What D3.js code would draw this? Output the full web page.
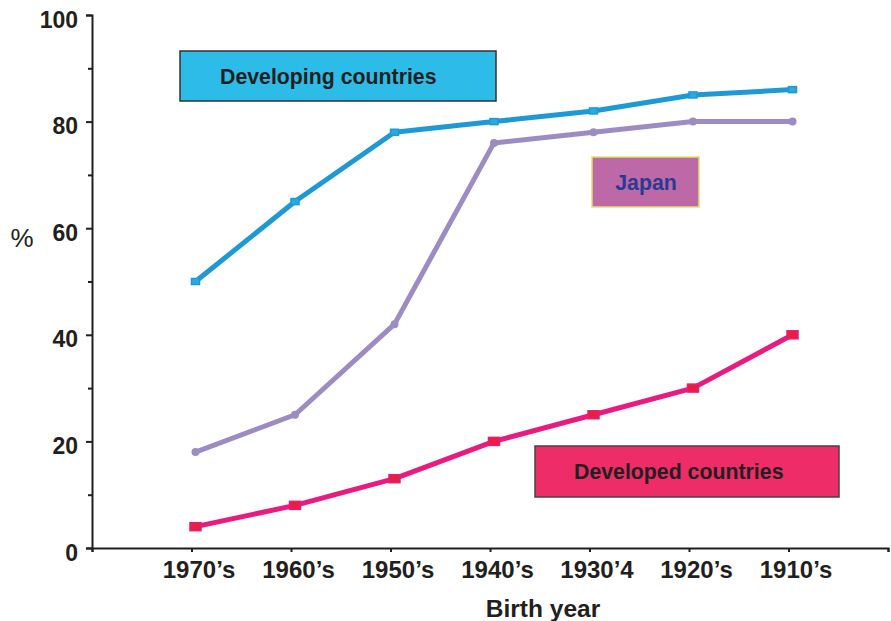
<!DOCTYPE html>
<html lang="en">
<head>
    <meta charset="UTF-8">
    <title>Birth year chart</title>
    <script src="https://d3js.org/d3.v7.min.js"></script>
    <style>
        body { margin: 0; background: white; }
        svg { display: block; }
        text { font-family: "Liberation Sans", Arial, sans-serif; fill: #231f20; }
        .axis path, .axis line { stroke: #231f20; stroke-width: 2px; }
        .axis text { font-weight: bold; fill: #231f20; }
    </style>
</head>
<body>
    <svg width="891" height="621"></svg>

    <script>
        const categories = ["1970’s", "1960’s", "1950’s", "1940’s", "1930’4", "1920’s", "1910’s"];
        const developing = [50, 65, 78, 80, 82, 85, 86];
        const japan = [18, 25, 42, 76, 78, 80, 80];
        const developed = [4, 8, 13, 20, 25, 30, 40];
        const yTicks = [0, 20, 40, 60, 80, 100];

        let svg = d3.select("svg");

        let x = d3.scaleLinear().domain([0, 8]).range([92, 888]);
        let y = d3.scaleLinear().domain([0, 100]).range([548, 15]);
        // points sit a little right of their ticks in the original
        let px = i => x(i + 1) + 4;

        // y axis: minor then major ticks
        svg.append("g")
            .attr("class", "axis")
            .attr("transform", "translate(92,0)")
            .call(d3.axisLeft(y).tickValues(d3.range(10, 100, 20)).tickSize(4).tickFormat(""))
            .call(g => g.select(".domain").remove());

        svg.append("g")
            .attr("class", "axis")
            .attr("transform", "translate(92,0)")
            .call(d3.axisLeft(y).tickValues(yTicks).tickSizeOuter(0).tickSize(6).tickPadding(8))
            .selectAll("text").attr("dy", "0.7em").attr("y", -4).attr("font-size", 23);

        // x axis
        svg.append("g")
            .attr("class", "axis")
            .attr("transform", "translate(0,548)")
            .call(d3.axisBottom(x).tickValues(d3.range(0, 9)).tickSizeOuter(0).tickSize(4).tickPadding(9)
                .tickFormat(i => categories[i - 1] || ""))
            .selectAll("text").attr("dx", 7).attr("font-size", 24);

        svg.append("text")
            .attr("x", 22).attr("y", 247)
            .attr("text-anchor", "middle")
            .attr("font-size", 26)
            .text("%");

        svg.append("text")
            .attr("x", 543).attr("y", 617)
            .attr("text-anchor", "middle")
            .attr("font-size", 24.5)
            .attr("font-weight", "bold")
            .text("Birth year");

        let line = d3.line().x((d, i) => px(i)).y(d => y(d));

        const series = [
            { values: developing, color: "#1d9ad6", marker: "rect", mfill: "#29abe2", mw: 8, mh: 6 },
            { values: japan, color: "#9d8cc4", marker: "circle", mfill: "#9d8cc4", r: 4 },
            { values: developed, color: "#ea1a7f", marker: "rect", mfill: "#e8203c", mw: 11, mh: 8 }
        ];

        series.forEach(s => {
            svg.append("path")
                .datum(s.values)
                .attr("fill", "none")
                .attr("stroke", s.color)
                .attr("stroke-width", 5)
                .attr("stroke-linejoin", "round")
                .attr("d", line);

            if (s.marker === "rect") {
                svg.selectAll(null)
                    .data(s.values)
                    .enter().append("rect")
                    .attr("x", (d, i) => px(i) - s.mw / 2)
                    .attr("y", d => y(d) - s.mh / 2)
                    .attr("width", s.mw)
                    .attr("height", s.mh)
                    .attr("fill", s.mfill)
                    .attr("stroke", s.color)
                    .attr("stroke-width", 1.5);
            } else {
                svg.selectAll(null)
                    .data(s.values)
                    .enter().append("circle")
                    .attr("cx", (d, i) => px(i))
                    .attr("cy", d => y(d))
                    .attr("r", s.r)
                    .attr("fill", s.mfill);
            }
        });

        // labelled boxes
        const boxes = [
            { label: "Developing countries", x: 180, y: 51, w: 316, h: 50, fill: "#2dbce8", stroke: "#333", color: "#231f20", tx: 220, anchor: "start" },
            { label: "Japan", x: 592, y: 157, w: 107, h: 50, fill: "#bd69a7", stroke: "#e4e06a", color: "#2b3990", tx: 646, anchor: "middle" },
            { label: "Developed countries", x: 535, y: 446, w: 304, h: 51, fill: "#ed2c68", stroke: "#444", color: "#231f20", tx: 574, anchor: "start" }
        ];

        boxes.forEach(b => {
            svg.append("rect")
                .attr("x", b.x).attr("y", b.y)
                .attr("width", b.w).attr("height", b.h)
                .attr("fill", b.fill)
                .attr("stroke", b.stroke)
                .attr("stroke-width", 1.5);
            svg.append("text")
                .attr("x", b.tx).attr("y", b.y + b.h / 2 + 7.5)
                .attr("text-anchor", b.anchor)
                .attr("font-size", 21.3)
                .attr("font-weight", "bold")
                .style("fill", b.color)
                .text(b.label);
        });
    </script>
</body>
</html>
